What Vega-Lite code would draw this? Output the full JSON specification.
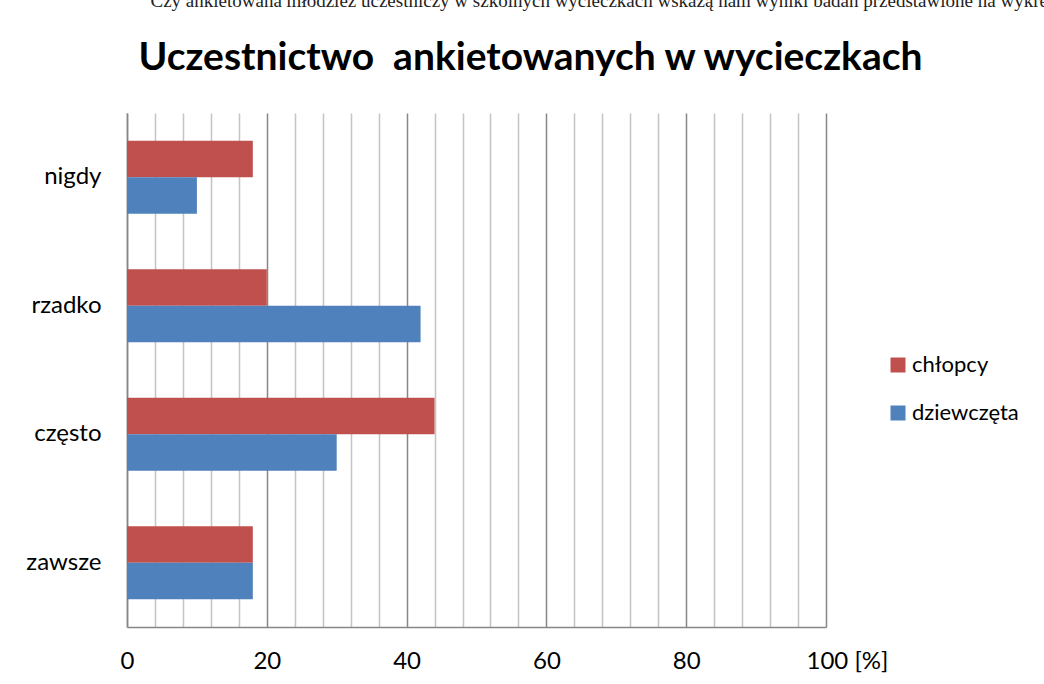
{
  "$schema": "https://vega.github.io/schema/vega-lite/v6.json",
  "width": 699,
  "height": 514,
  "autosize": {"type": "none"},
  "padding": {"left": 127, "top": 113, "right": 218, "bottom": 57},
  "background": "white",
  "config": {"view": {"stroke": null}, "font": "Lato"},
  "title": {
    "text": "Uczestnictwo\u00a0 ankietowanych w wycieczkach",
    "font": "Lato",
    "fontSize": 39,
    "fontWeight": "bold",
    "color": "#000000",
    "anchor": "middle",
    "frame": "group",
    "dx": 54,
    "offset": -87
  },
  "data": {
    "values": [
      {"kategoria": "nigdy", "plec": "chłopcy", "procent": 18},
      {"kategoria": "nigdy", "plec": "dziewczęta", "procent": 10},
      {"kategoria": "rzadko", "plec": "chłopcy", "procent": 20},
      {"kategoria": "rzadko", "plec": "dziewczęta", "procent": 42},
      {"kategoria": "często", "plec": "chłopcy", "procent": 44},
      {"kategoria": "często", "plec": "dziewczęta", "procent": 30},
      {"kategoria": "zawsze", "plec": "chłopcy", "procent": 18},
      {"kategoria": "zawsze", "plec": "dziewczęta", "procent": 18}
    ]
  },
  "mark": {"type": "bar"},
  "encoding": {
    "y": {
      "field": "kategoria",
      "type": "nominal",
      "sort": ["nigdy", "rzadko", "często", "zawsze"],
      "scale": {"paddingInner": 0.432, "paddingOuter": 0.216},
      "axis": {
        "title": "Czy ankietowana młodzież uczestniczy w szkolnych wycieczkach wskażą nam wyniki badań przedstawione na wykresie.",
        "titleAngle": 0,
        "titleX": 23,
        "titleY": -107,
        "titleAlign": "left",
        "titleBaseline": "alphabetic",
        "titleFont": "Liberation Serif",
        "titleFontSize": 19,
        "titleFontWeight": "normal",
        "titleColor": "#222222",
        "labelFont": "Lato",
        "labelFontSize": 24,
        "labelColor": "#000000",
        "labelPadding": 26,
        "ticks": false,
        "domainColor": "#868686",
        "domainWidth": 1.5,
        "labelExpr": "datum.value == 'często' ? 'często\u00a0' : datum.value"
      }
    },
    "yOffset": {
      "field": "plec",
      "type": "nominal",
      "sort": ["chłopcy", "dziewczęta"],
      "scale": {"paddingInner": 0, "paddingOuter": 0}
    },
    "x": {
      "field": "procent",
      "type": "quantitative",
      "scale": {"domain": [0, 100], "nice": false},
      "axis": {
        "title": null,
        "values": [0, 4, 8, 12, 16, 20, 24, 28, 32, 36, 40, 44, 48, 52, 56, 60, 64, 68, 72, 76, 80, 84, 88, 92, 96, 100],
        "grid": true,
        "gridColor": {"condition": {"test": "datum.value % 20 === 0", "value": "#878787"}, "value": "#c4c4c4"},
        "gridWidth": 1.5,
        "ticks": false,
        "domainColor": "#868686",
        "domainWidth": 1.5,
        "labelExpr": "datum.value % 20 === 0 ? (datum.value === 100 ? '100 [%]' : datum.label) : ''",
        "labelAlign": {"condition": {"test": "datum.value === 100", "value": "left"}, "value": "center"},
        "labelOffset": {"condition": {"test": "datum.value === 100", "value": -20}, "value": 0},
        "labelFont": "Lato",
        "labelFontSize": 24,
        "labelPadding": 22,
        "labelColor": "#000000",
        "labelOverlap": false,
        "labelFlush": false
      }
    },
    "color": {
      "field": "plec",
      "type": "nominal",
      "scale": {"domain": ["chłopcy", "dziewczęta"], "range": ["#C0504D", "#4F81BD"]},
      "legend": {
        "title": null,
        "orient": "none",
        "legendX": 760,
        "legendY": 241,
        "symbolType": "square",
        "symbolSize": 225,
        "symbolStrokeWidth": 0,
        "labelFont": "Lato",
        "labelFontSize": 22,
        "labelColor": "#000000",
        "rowPadding": 26,
        "labelOffset": 3
      }
    }
  }
}
